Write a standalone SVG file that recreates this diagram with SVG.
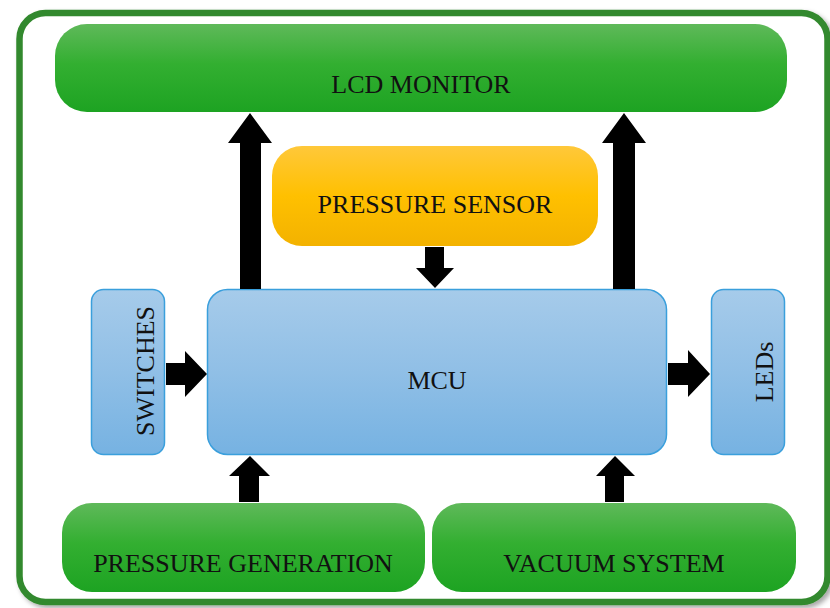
<svg xmlns="http://www.w3.org/2000/svg" width="830" height="608" viewBox="0 0 830 608">
  <defs>
    <linearGradient id="gGreen" x1="0" y1="0" x2="0" y2="1">
      <stop offset="0" stop-color="#5fb95a"/>
      <stop offset="0.45" stop-color="#33af31"/>
      <stop offset="1" stop-color="#1da322"/>
    </linearGradient>
    <linearGradient id="gOrange" x1="0" y1="0" x2="0" y2="1">
      <stop offset="0" stop-color="#ffc83a"/>
      <stop offset="0.5" stop-color="#ffc000"/>
      <stop offset="1" stop-color="#f3b200"/>
    </linearGradient>
    <linearGradient id="gBlue" x1="0" y1="0" x2="0" y2="1">
      <stop offset="0" stop-color="#a6cbea"/>
      <stop offset="0.5" stop-color="#90bfe6"/>
      <stop offset="1" stop-color="#76b2e2"/>
    </linearGradient>
    <filter id="shadow" x="-5%" y="-5%" width="115%" height="115%">
      <feDropShadow dx="3" dy="3" stdDeviation="2.5" flood-color="#000" flood-opacity="0.35"/>
    </filter>
  </defs>
  <style>
    .lbl { font-family: "Liberation Serif", "Times New Roman", serif; font-size: 26px; fill: #111; text-anchor: middle; }
    .green { fill: url(#gGreen); }
    .orange { fill: url(#gOrange); }
    .blue { fill: url(#gBlue); stroke: #3a9fdc; stroke-width: 1.5; }
    .arrow { fill: #000; }
  </style>
  <rect x="0" y="0" width="830" height="608" fill="#ffffff"/>
  <rect id="frame" x="19.5" y="13" width="808" height="589" rx="26" fill="#ffffff" stroke="#33892e" stroke-width="6.5" filter="url(#shadow)"/>

  <g id="lcd-monitor">
    <rect class="green" x="55" y="24" width="732" height="88" rx="32"/>
    <text class="lbl" x="421" y="93">LCD MONITOR</text>
  </g>
  <g id="pressure-sensor">
    <rect class="orange" x="272" y="146" width="326" height="100" rx="30"/>
    <text class="lbl" x="435" y="213">PRESSURE SENSOR</text>
  </g>
  <g id="mcu">
    <rect class="blue" x="207.5" y="289.5" width="459" height="165" rx="20"/>
    <text class="lbl" x="437" y="389">MCU</text>
  </g>
  <g id="switches">
    <rect class="blue" x="91.5" y="289.5" width="73" height="165" rx="12"/>
    <text class="lbl" transform="translate(154 371) rotate(-90)">SWITCHES</text>
  </g>
  <g id="leds">
    <rect class="blue" x="711.5" y="289.5" width="73" height="165" rx="12"/>
    <text class="lbl" transform="translate(773 372) rotate(-90)">LEDs</text>
  </g>
  <g id="pressure-generation">
    <rect class="green" x="62" y="503" width="363" height="89" rx="30"/>
    <text class="lbl" x="243" y="572">PRESSURE GENERATION</text>
  </g>
  <g id="vacuum-system">
    <rect class="green" x="432" y="503" width="364" height="89" rx="30"/>
    <text class="lbl" x="614" y="572">VACUUM SYSTEM</text>
  </g>

  <g id="connectors">
    <!-- MCU -> LCD left -->
    <polygon class="arrow" points="240,289 240,143 228,143 250,113 272,143 261,143 261,289"/>
    <!-- MCU -> LCD right -->
    <polygon class="arrow" points="613,289 613,143 602,143 624,113 646,143 635,143 635,289"/>
    <!-- Sensor -> MCU -->
    <polygon class="arrow" points="425,247 444,247 444,268 454,268 435,288 416,268 425,268"/>
    <!-- Switches -> MCU -->
    <polygon class="arrow" points="166,363 185,363 185,351 207,374 185,397 185,385 166,385"/>
    <!-- MCU -> LEDs -->
    <polygon class="arrow" points="668,363 688,363 688,350 710,374 688,397 688,385 668,385"/>
    <!-- Pressure generation -> MCU -->
    <polygon class="arrow" points="239,502 239,476 229,476 250,456 270,476 259,476 259,502"/>
    <!-- Vacuum system -> MCU -->
    <polygon class="arrow" points="605,502 605,476 596,476 615,456 635,476 624,476 624,502"/>
  </g>
</svg>
